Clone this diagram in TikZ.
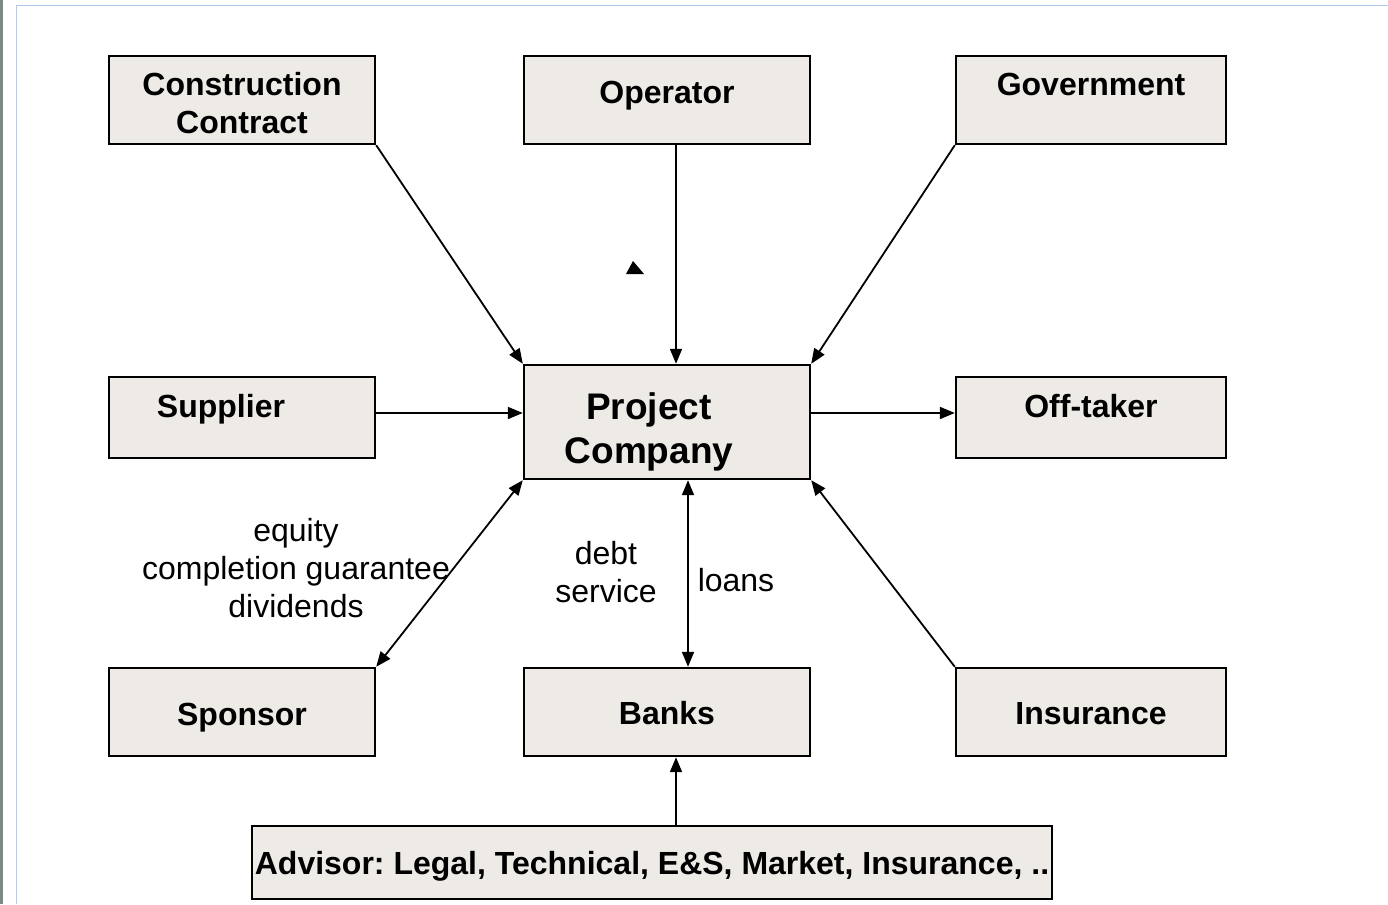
\documentclass[tikz,border=0pt]{standalone}
\usepackage{fontspec}
\setmainfont{Liberation Sans}
\usetikzlibrary{arrows.meta}

\definecolor{boxfill}{RGB}{238,234,230}
\definecolor{framebar}{RGB}{122,140,130}
\definecolor{frameline}{RGB}{178,202,240}

\frenchspacing

\begin{document}
\begin{tikzpicture}[x=1pt, y=-1pt,
    party/.style={draw, line width=2.4pt, fill=boxfill, inner sep=0pt},
    every label/.style={font=\fontsize{32}{38}\selectfont\bfseries, align=center},
    link/.style={line width=1.8pt, -{Triangle[length=15pt,width=12pt]}},
    twoway/.style={line width=1.8pt, {Triangle[length=15pt,width=12pt]}-{Triangle[length=15pt,width=12pt]}},
    note/.style={font=\fontsize{32}{38}\selectfont, align=center}]
    \useasboundingbox (0,0) rectangle (1388,904);

    % slide frame
    \fill[framebar] (0,0) rectangle (3,904);
    \draw[frameline, line width=1.8pt] (16.5,904) -- (16.5,5.5) -- (1388,5.5);

    % parties
    \node[party, minimum width=266pt, minimum height=88pt, label={[yshift=-3pt]center:Construction\\Contract}] (contract) at (242,100) {};
    \node[party, minimum width=286pt, minimum height=88pt, label={[yshift=4pt]center:Operator}] (operator) at (667,100) {};
    \node[party, minimum width=270pt, minimum height=88pt, label={[yshift=16pt]center:Government}] (government) at (1091,100) {};
    \node[party, minimum width=266pt, minimum height=81pt, label={[xshift=-21pt, yshift=8pt]center:Supplier}] (supplier) at (242,417.5) {};
    \node[party, minimum width=286pt, minimum height=114pt, label={[xshift=-18pt, yshift=-10pt, font=\fontsize{37}{44}\selectfont\bfseries]center:Project\\Company}] (company) at (667,422) {};
    \node[party, minimum width=270pt, minimum height=81pt, label={[yshift=11pt]center:Off-taker}] (offtaker) at (1091,417.5) {};
    \node[party, minimum width=266pt, minimum height=88pt, label={[yshift=-6pt]center:Sponsor}] (sponsor) at (242,712) {};
    \node[party, minimum width=286pt, minimum height=88pt, label={[yshift=-1pt]center:Banks}] (banks) at (667,712) {};
    \node[party, minimum width=270pt, minimum height=88pt, label={[yshift=-2pt]center:Insurance}] (insurance) at (1091,712) {};
    \node[party, minimum width=800pt, minimum height=73pt, label={[yshift=-4pt]center:{Advisor: Legal, Technical, E\&S, Market, Insurance, ..}}] (advisor) at (652,862.5) {};

    % flows into and out of the project company
    \draw[link] (contract.south east) -- (company.north west);
    \draw[link] ([xshift=9pt]operator.south) -- ([xshift=9pt]company.north);
    \draw[link] (government.south west) -- (company.north east);
    \draw[link] ([yshift=4.5pt]supplier.east) -- ([yshift=4.5pt]supplier.east -| company.west);
    \draw[link] ([yshift=4.5pt]offtaker.west -| company.east) -- ([yshift=4.5pt]offtaker.west);
    \draw[twoway] (sponsor.north east) -- (company.south west);
    \draw[twoway] ([xshift=21pt]banks.north) -- ([xshift=21pt]company.south);
    \draw[link] (insurance.north west) -- (company.south east);
    \draw[link] ([xshift=9pt]banks.south |- advisor.north) -- ([xshift=9pt]banks.south);

    % stray tip
    \fill (633,261) -- (626,274) -- (644,274) -- cycle;

    % flow labels
    \node[note] (sponsorflows) at (296,568) {equity\\completion guarantee\\dividends};
    \node[note] (debtservice) at (606,572) {debt\\service};
    \node[note] (loans) at (736,580) {loans};
\end{tikzpicture}
\end{document}
